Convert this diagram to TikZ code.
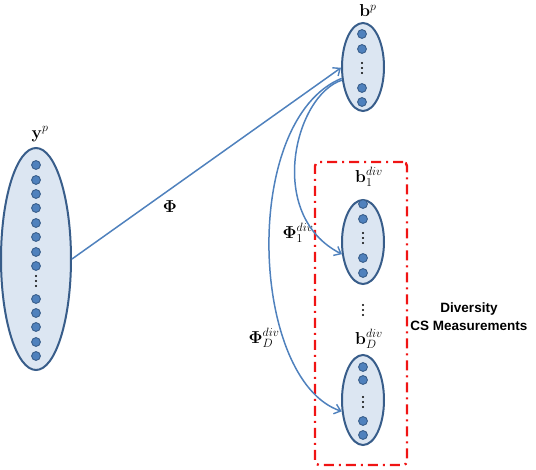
\documentclass[tikz,border=0pt]{standalone}
\usepackage[no-math]{fontspec}
\newfontfamily\arialbold[BoldFont={Liberation Sans Bold}]{Liberation Sans}
\usetikzlibrary{shapes.geometric,arrows.meta}
\definecolor{lineblue}{RGB}{79,129,189}
\definecolor{edgeblue}{RGB}{56,93,138}
\definecolor{fillblue}{RGB}{220,230,242}
\definecolor{boxred}{RGB}{240,20,20}
\tikzset{
  vec/.style={ellipse, draw=edgeblue, line width=2pt, fill=fillblue, inner sep=0pt},
  dotc/.style={fill=lineblue, draw=edgeblue, line width=0.9pt},
  conn/.style={draw=lineblue, line width=1.5pt, -{Straight Barb[length=6pt,width=10pt,line width=1.4pt]}},
  lbl/.style={inner sep=0pt, font=\fontsize{17}{19}\selectfont},
}
\begin{document}
\begin{tikzpicture}[x=1pt,y=-1pt]
\useasboundingbox (0,0) rectangle (536,470);
% ellipses
\node[vec, minimum width=70pt, minimum height=222pt] (yp) at (36,259) {};
\node[vec, minimum width=42pt, minimum height=88pt] (bp) at (363,67) {};
\node[vec, minimum width=42pt, minimum height=84pt] (b1) at (363,242) {};
\node[vec, minimum width=42pt, minimum height=90pt] (bD) at (363,400) {};
% dots in yp
\foreach \yy in {165,180,194,208,223,237,252,266,299,313,327,342,356}
  \draw[dotc] (36,\yy) circle (4.4pt);
\foreach \yy in {276,281,286} \fill (36,\yy) circle (1.1pt);
% dots in bp
\foreach \yy in {34,49,88,102} \draw[dotc] (362,\yy) circle (4.4pt);
\foreach \yy in {63,68,73} \fill (362,\yy) circle (1.1pt);
% dots in b1
\foreach \yy in {204,219,258,273} \draw[dotc] (363,\yy) circle (4.4pt);
\foreach \yy in {233,238,243} \fill (363,\yy) circle (1.1pt);
% dots in bD
\foreach \yy in {367,380,421,435} \draw[dotc] (363,\yy) circle (4.4pt);
\foreach \yy in {397,402,407} \fill (363,\yy) circle (1.1pt);
% vertical dots between
\foreach \yy in {305,310,315} \fill (363,\yy) circle (1.1pt);
% labels
\node[lbl] (lyp) at (40,134) {$\mathbf{y}^{p}$};
\node[lbl] (lbp) at (368,11) {$\mathbf{b}^{p}$};
\node[lbl] (lb1) at (369,177) {$\mathbf{b}_1^{div}$};
\node[lbl] (lbD) at (369,339) {$\mathbf{b}_D^{div}$};
\node[lbl] (lphi) at (170,207) {$\mathbf{\Phi}$};
\node[lbl] (lphi1) at (298,233) {$\mathbf{\Phi}_1^{div}$};
\node[lbl] (lphiD) at (264,338) {$\mathbf{\Phi}_D^{div}$};
% red box
\node[draw=boxred, line width=2.4pt, dash pattern=on 10pt off 5pt on 2pt off 5pt,
      rounded corners=4pt, minimum width=92pt, minimum height=303pt, inner sep=0pt]
      (box) at (361,313.5) {};
\node[align=center, inner sep=0pt, font=\arialbold\bfseries\fontsize{13.5}{18}\selectfont]
      (div) at (469,317) {Diversity\\CS Measurements};
% connectors
\draw[conn] (yp.east) -- (bp.182);
\draw[conn] (bp.212) .. controls (295,95) and (265,215) .. (b1.210);
\draw[conn] (bp.208) .. controls (240,120) and (250,380) .. (bD.208);
\end{tikzpicture}
\end{document}
